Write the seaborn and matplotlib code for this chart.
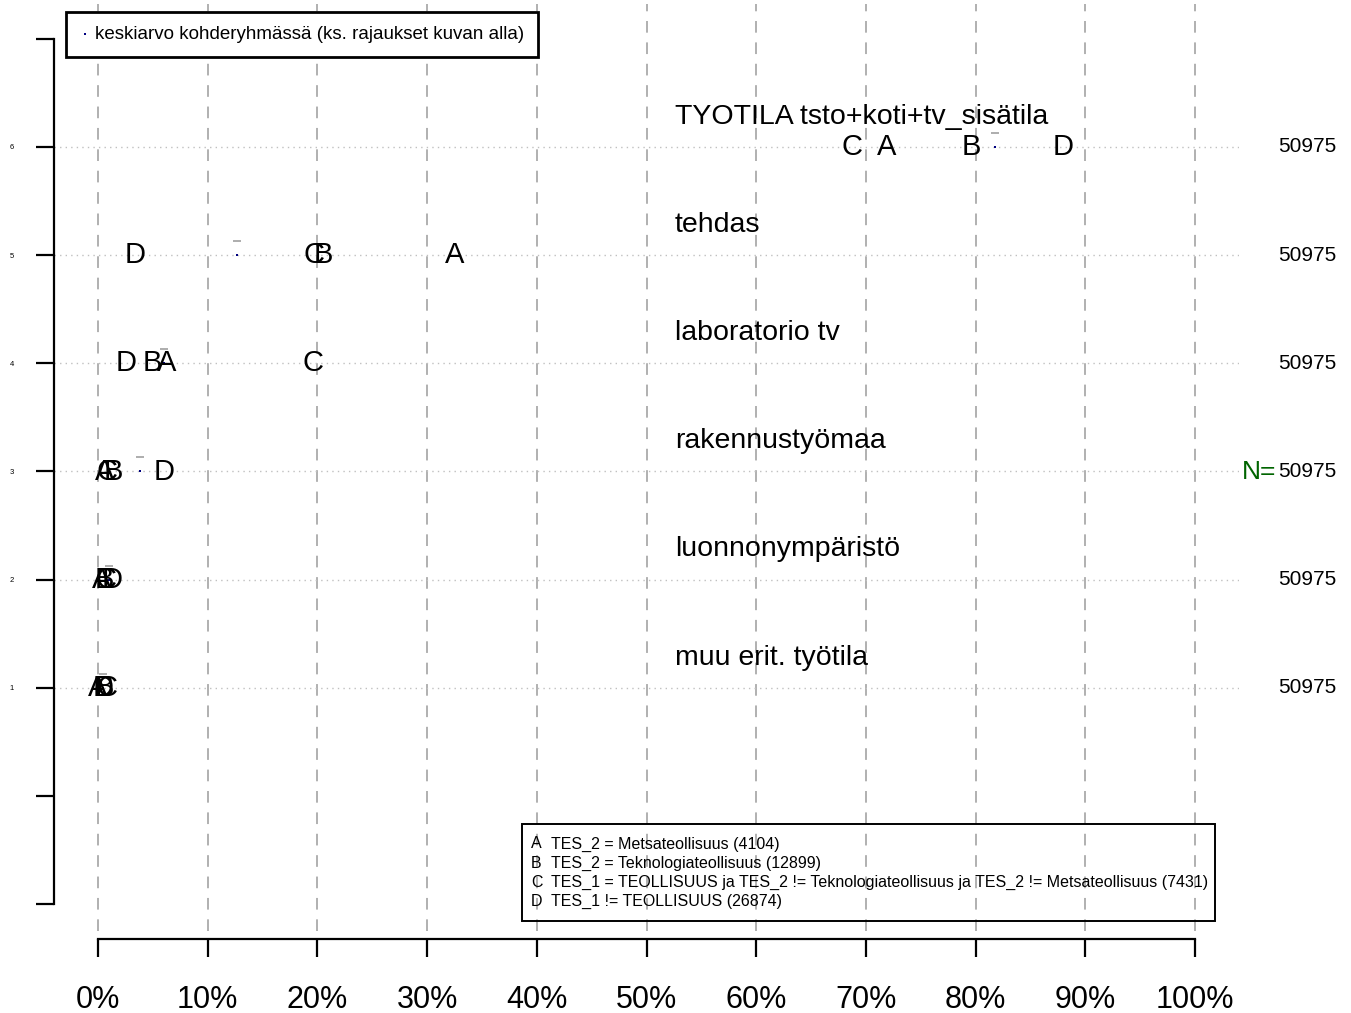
import numpy as np
import pandas as pd
import seaborn as sns
import matplotlib.pyplot as plt
from matplotlib.patches import Rectangle

# rows, bottom to top
categories = ["muu erit. työtila", "luonnonympäristö", "rakennustyömaa",
              "laboratorio tv", "tehdas", "TYOTILA tsto+koti+tv_sisätila"]
rows = [1, 2, 3, 4, 5, 6]
n_values = [50975, 50975, 50975, 50975, 50975, 50975]

# share (%) per group
group_a = [0.0, 0.3, 0.6, 6.3, 32.5, 71.9]
group_b = [0.6, 0.6, 1.4, 5.0, 20.5, 79.6]
group_c = [0.8, 0.7, 0.8, 19.6, 19.7, 68.7]
group_d = [0.5, 1.3, 6.0, 2.6, 3.4, 88.0]
mean_all = [0.5, 1.0, 3.8, 6.0, 12.7, 81.8]

group_letters = ["A", "B", "C", "D"]
group_desc = ["TES_2 = Metsateollisuus (4104)",
              "TES_2 = Teknologiateollisuus (12899)",
              "TES_1 = TEOLLISUUS ja TES_2 != Teknologiateollisuus ja TES_2 != Metsateollisuus (7431)",
              "TES_1 != TEOLLISUUS (26874)"]

xticks = [0, 10, 20, 30, 40, 50, 60, 70, 80, 90, 100]
xticklabels = [str(t) + "%" for t in xticks]

sns.set_style("white")
plt.rcParams['font.family'] = ['Liberation Sans', 'DejaVu Sans']
plt.rcParams['text.color'] = 'black'
plt.rcParams['xtick.color'] = 'black'
plt.rcParams['ytick.color'] = 'black'
plt.rcParams['xtick.labelcolor'] = 'black'
plt.rcParams['ytick.labelcolor'] = 'black'

W, H = 1351, 1013
fig = plt.figure(figsize=(W / 100, H / 100), dpi=100)
ax = fig.add_axes([54 / W, 1 - 939 / H, (1239 - 54) / W, (939 - 4) / H])
ax.set_xlim(-4, 104)
ax.set_ylim(-1.32, 7.32)

# grid
ax.vlines(xticks, -1.25, 7.5, colors="#b0b0b0", linestyles=(0, (6, 5)), lw=1.4, zorder=0)
ax.hlines(rows, -4, 104, colors="#c0c0c0", linestyles=(0, (1, 3)), lw=1, zorder=0)

# mean points
df_mean = pd.DataFrame({"x": mean_all, "y": rows})
sns.scatterplot(data=df_mean, x="x", y="y", ax=ax, color="#000080", s=4, marker="s",
                linewidth=0, label="keskiarvo kohderyhmässä (ks. rajaukset kuvan alla)", zorder=3)
ax.scatter(mean_all, np.array(rows) + 0.13, marker="_", s=40, color="#a0a0a0", lw=1.2, zorder=2)

# group letters
for letter, vals in zip(group_letters, [group_a, group_b, group_c, group_d]):
    for v, r in zip(vals, rows):
        ax.text(v, r, letter, fontsize=21, ha="center", va="center", color="black", zorder=4)

# category labels and N
for r, cat, n in zip(rows, categories, n_values):
    ax.text(52.6, r + 0.28, cat, fontsize=20.5, ha="left", va="center", color="black")
    ax.text(107.6, r, str(n), fontsize=15, ha="left", va="center", color="black", clip_on=False)
ax.text(107.4, 3, "N=", fontsize=19, ha="right", va="center", color="#006400", clip_on=False)

# axes
sns.despine(ax=ax)
ax.spines["left"].set_bounds(-1, 7)
ax.spines["bottom"].set_bounds(0, 100)
for s in ["left", "bottom"]:
    ax.spines[s].set_linewidth(1.6)
    ax.spines[s].set_color("black")

ax.set_yticks(range(-1, 8))
ax.set_yticklabels(["" if t < 1 or t > 6 else str(t) for t in range(-1, 8)], fontsize=5.5)
ax.set_xticks(xticks)
ax.set_xticklabels(xticklabels, fontsize=22)
ax.tick_params(axis="y", direction="out", length=13, width=1.6, pad=16, left=True)
ax.tick_params(axis="x", direction="out", length=13, width=1.6, pad=20, bottom=True)
ax.set_xlabel("")
ax.set_ylabel("")

# legend top
leg = ax.legend(loc="upper left", bbox_to_anchor=(66 / W, 1 - 12 / H), bbox_transform=fig.transFigure,
                borderaxespad=0, frameon=True, fancybox=False, framealpha=1, edgecolor="black",
                fontsize=13.5, handlelength=0.5, handletextpad=0.3, borderpad=0.75, markerscale=1)
leg.get_frame().set_linewidth(2)
for t in leg.get_texts():
    t.set_color("black")

# group legend at bottom
fig.patches.append(Rectangle((522 / W, 1 - 921 / H), (1215 - 522) / W, (921 - 824) / H,
                             transform=fig.transFigure, fill=False, edgecolor="black", lw=1.4))
for i, (letter, desc) in enumerate(zip(group_letters, group_desc)):
    yy = 1 - (844 + 19 * i) / H
    fig.text(531 / W, yy, letter, fontsize=11.5, ha="left", va="center", color="black")
    fig.text(551 / W, yy, desc, fontsize=11.5, ha="left", va="center", color="black")

fig.savefig("out.png", dpi=100)
